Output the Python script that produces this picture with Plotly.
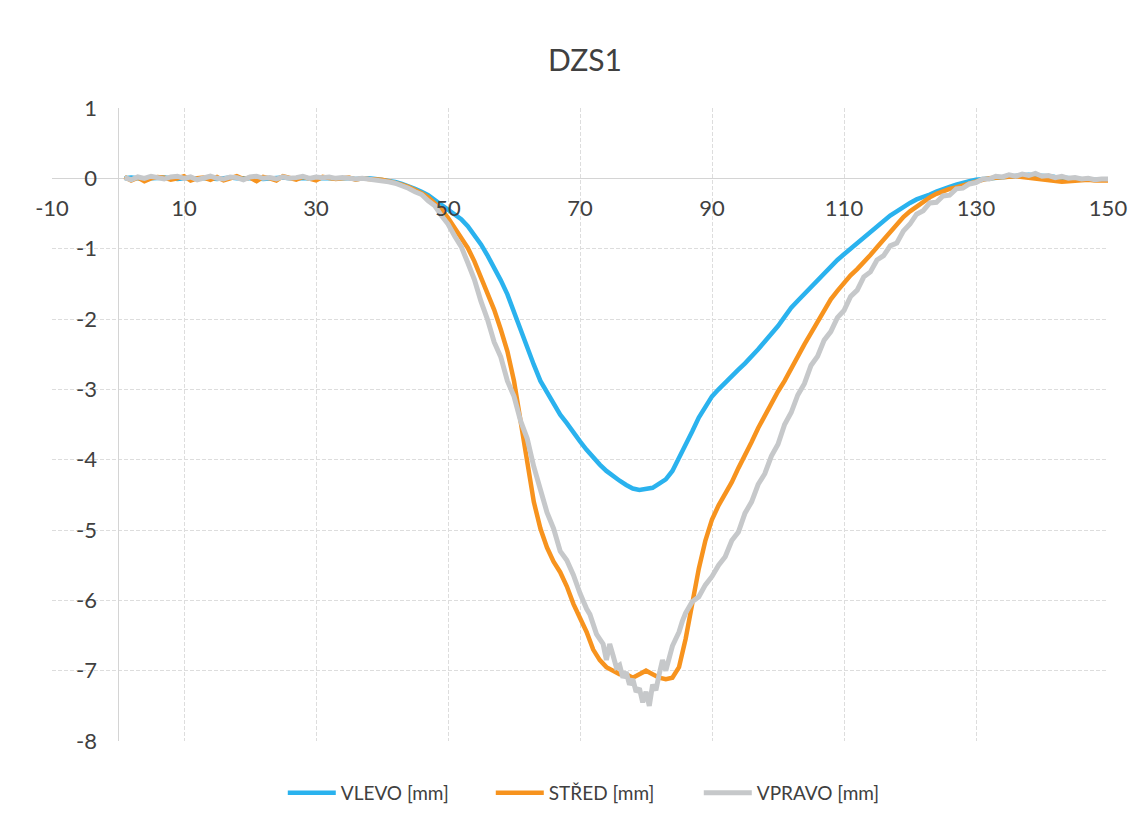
import plotly.graph_objects as go

# ---------------- data ----------------
x_main = list(range(1, 151))

vlevo_flat = [0.0, 0.01, 0.0, -0.01, 0.0, 0.01, 0.01, 0.0, -0.01, 0.0,
              0.0, 0.01, 0.0, 0.0, -0.01, 0.0, 0.01, 0.0, 0.0, 0.01,
              0.0, -0.01, 0.0, 0.0, 0.01, 0.0, 0.0, 0.01, 0.01, 0.0,
              0.0, 0.01, 0.0, 0.0, 0.0, -0.01, 0.0, 0.0]
vlevo_rest = [-0.01, -0.02, -0.03, -0.05, -0.08, -0.11, -0.15, -0.19, -0.24, -0.31,
              -0.38, -0.45, -0.50, -0.58, -0.68, -0.80, -0.94, -1.10, -1.27, -1.45,
              -1.65, -1.90, -2.18, -2.42, -2.65, -2.88, -3.05, -3.22, -3.36, -3.48,
              -3.62, -3.74, -3.86, -3.97, -4.07, -4.16, -4.24, -4.30, -4.36, -4.41,
              -4.43, -4.42, -4.40, -4.34, -4.28, -4.16, -3.98, -3.80, -3.60, -3.40,
              -3.25, -3.10, -3.00, -2.90, -2.80, -2.72, -2.63, -2.54, -2.43, -2.32,
              -2.22, -2.10, -1.97, -1.84, -1.74, -1.64, -1.54, -1.45, -1.35, -1.25,
              -1.16, -1.08, -1.00, -0.92, -0.84, -0.76, -0.68, -0.60, -0.53, -0.47,
              -0.40, -0.35, -0.30, -0.27, -0.23, -0.19, -0.15, -0.12, -0.09, -0.06,
              -0.04, -0.02, -0.01, 0.0, 0.01, 0.02, 0.03, 0.04, 0.04, 0.05,
              0.04, 0.04, 0.03, 0.02, 0.01, 0.0, -0.01, -0.01, -0.02, -0.02, -0.02, -0.02]
vlevo = vlevo_flat + vlevo_rest

stred_flat = [0.02, -0.03, 0.01, -0.04, 0.0, 0.02, 0.01, -0.02, 0.0, 0.03,
              -0.03, 0.0, 0.01, -0.02, 0.02, -0.03, 0.0, 0.03, -0.01, 0.01,
              -0.04, 0.02, 0.0, -0.03, 0.03, 0.01, -0.02, 0.02, 0.0, -0.03,
              0.02, 0.01, -0.01, 0.0, 0.01, -0.02, 0.0, -0.01]
stred_rest = [-0.01, -0.02, -0.04, -0.06, -0.09, -0.12, -0.16, -0.21, -0.27, -0.35,
              -0.44, -0.56, -0.70, -0.84, -0.99, -1.18, -1.40, -1.62, -1.87, -2.15,
              -2.46, -2.88, -3.45, -4.05, -4.60, -4.98, -5.25, -5.45, -5.60, -5.80,
              -6.05, -6.25, -6.45, -6.70, -6.85, -6.95, -7.00, -7.05, -7.05, -7.10,
              -7.05, -7.00, -7.05, -7.10, -7.12, -7.10, -6.95, -6.55, -6.05, -5.55,
              -5.15, -4.85, -4.65, -4.50, -4.32, -4.12, -3.95, -3.75, -3.55, -3.37,
              -3.20, -3.03, -2.88, -2.70, -2.52, -2.36, -2.20, -2.03, -1.86, -1.72,
              -1.60, -1.48, -1.38, -1.29, -1.20, -1.09, -0.98, -0.87, -0.77, -0.66,
              -0.55, -0.47, -0.40, -0.33, -0.27, -0.22, -0.18, -0.15, -0.13, -0.10,
              -0.07, -0.04, -0.02, 0.0, 0.01, 0.02, 0.02, 0.03, 0.02, 0.01,
              0.0, -0.01, -0.03, -0.04, -0.05, -0.04, -0.03, -0.03, -0.02, -0.03, -0.03, -0.03]
stred = stred_flat + stred_rest

vpravo_x = (list(range(1, 70))
            + [70, 70.5, 71, 71.5, 72, 72.5, 73, 73.5, 74, 74.5, 75, 75.5,
               76, 76.5, 77, 77.5, 78, 78.5, 79, 79.5, 80, 80.5, 81, 81.5,
               82, 82.5, 83, 83.5, 84, 84.5, 85, 85.5, 86]
            + list(range(87, 151)))
vpravo_flat = [0.01, -0.02, 0.02, 0.0, 0.03, 0.01, -0.01, 0.02, 0.03, 0.0,
               0.02, -0.02, 0.01, 0.03, 0.0, -0.01, 0.02, 0.01, -0.02, 0.02,
               0.03, 0.0, 0.01, -0.01, 0.02, 0.0, 0.01, 0.03, 0.0, 0.02,
               0.01, 0.02, 0.0, 0.01, 0.0, -0.01, 0.0, -0.01]
vpravo_down = [-0.02, -0.03, -0.05, -0.07, -0.10, -0.14, -0.19, -0.23, -0.32, -0.39,
               -0.53, -0.65, -0.82, -0.97, -1.20, -1.44, -1.75, -2.01, -2.33, -2.54,
               -2.88, -3.10, -3.45, -3.70, -4.10, -4.40, -4.75, -4.98, -5.30, -5.43, -5.64]
vpravo_bottom = [-5.90, -6.02, -6.12, -6.20, -6.35, -6.48, -6.55, -6.62, -6.85, -6.62,
                 -6.78, -6.95, -6.92, -7.10, -7.02, -7.20, -7.12, -7.30, -7.25, -7.45,
                 -7.30, -7.50, -7.20, -7.28, -7.05, -6.85, -7.00, -6.80, -6.65, -6.55,
                 -6.45, -6.30, -6.18]
vpravo_up = [-6.02, -5.95, -5.78, -5.66, -5.50, -5.38, -5.15, -5.03, -4.76, -4.60, -4.35, -4.20,
             -3.95, -3.78, -3.50, -3.33, -3.08, -2.92, -2.66, -2.53, -2.30, -2.18,
             -1.98, -1.88, -1.68, -1.59, -1.40, -1.33, -1.16, -1.10, -0.96, -0.92,
             -0.75, -0.65, -0.51, -0.46, -0.35, -0.34, -0.25, -0.24, -0.15, -0.14,
             -0.08, -0.06, -0.01, -0.01, 0.03, 0.02, 0.05, 0.03, 0.06, 0.04,
             0.07, 0.03, 0.04, 0.01, 0.03, 0.0, 0.01, -0.01, 0.0, -0.02, -0.01, -0.01]
vpravo = vpravo_flat + vpravo_down + vpravo_bottom + vpravo_up

x_ticks = [-10, 10, 30, 50, 70, 90, 110, 130, 150]
y_ticks = [1, 0, -1, -2, -3, -4, -5, -6, -7, -8]

# ---------------- figure ----------------
FONT = "Lato, 'Open Sans', sans-serif"
TXT = "#404040"
GRID = "#DDDDDD"

# the page has an 8px body margin, so the figure is sized to fit inside the window
W, H = 1132, 814

fig = go.Figure()
fig.add_trace(go.Scatter(x=x_main, y=vlevo, mode="lines", name="VLEVO [mm]",
                         line=dict(color="#2AB2EE", width=4.5)))
fig.add_trace(go.Scatter(x=x_main, y=stred, mode="lines", name="STŘED [mm]",
                         line=dict(color="#F7931E", width=4.5)))
fig.add_trace(go.Scatter(x=vpravo_x, y=vpravo, mode="lines", name="VPRAVO [mm]",
                         line=dict(color="#C6C8CA", width=5)))

fig.update_layout(
    width=W, height=H,
    margin=dict(l=44, r=32, t=100, b=81, autoexpand=False),
    paper_bgcolor="white", plot_bgcolor="white",
    font=dict(family=FONT, color=TXT, size=20),
    title=dict(text="DZS1", x=(44 + (W - 44 - 32) / 2 + 5) / W, xanchor="center",
               y=1 - 52 / H, yref="container",
               yanchor="middle", font=dict(size=30, color=TXT, family=FONT)),
    showlegend=True,
    legend=dict(orientation="h", x=0.514, xanchor="center", y=-0.082, yanchor="middle",
                font=dict(size=19, color=TXT, family=FONT), itemwidth=48,
                entrywidth=145, traceorder="normal"),
    xaxis=dict(range=[-10, 150], tickvals=x_ticks, ticktext=[str(v) for v in x_ticks],
               anchor="free", position=8 / 9, showgrid=True, gridcolor=GRID,
               griddash="4px,2px", gridwidth=1, zeroline=True, zerolinecolor="#D4D4D4",
               zerolinewidth=1, showline=False, ticks="", ticklabelstandoff=15,
               automargin=False,
               tickfont=dict(size=22, color=TXT, family=FONT)),
    yaxis=dict(range=[-8, 1], tickvals=y_ticks, ticktext=[str(v) for v in y_ticks],
               anchor="free", position=10 / 160, showgrid=True, gridcolor=GRID,
               griddash="4px,2px", gridwidth=1, zeroline=True, zerolinecolor="#D4D4D4",
               zerolinewidth=1, showline=False, ticks="", ticklabelstandoff=21,
               automargin=False,
               tickfont=dict(size=22, color=TXT, family=FONT)),
)

fig.write_html("out.html")
